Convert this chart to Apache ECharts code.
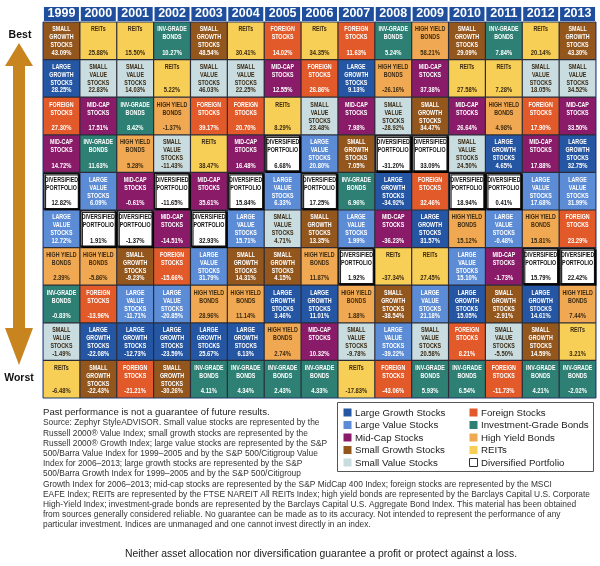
<!DOCTYPE html>
<html><head><meta charset="utf-8">
<script src="https://cdn.jsdelivr.net/npm/echarts@6/dist/echarts.min.js"></script>
<style>html,body{margin:0;padding:0;background:#fff}#c{width:600px;height:566px}</style>
</head><body><div id="c"></div>
<script>
// ---- data ----
const years = ['1999','2000','2001','2002','2003','2004','2005','2006','2007','2008','2009','2010','2011','2012','2013'];
const ranks = ['1','2','3','4','5','6','7','8','9','10'];
const assetKeys = ['LG','LV','MC','SG','SV','FS','IG','HY','RE','DP'];
const cellNames = {
  LG:'LARGE\nGROWTH\nSTOCKS', LV:'LARGE\nVALUE\nSTOCKS', MC:'MID-CAP\nSTOCKS', SG:'SMALL\nGROWTH\nSTOCKS',
  SV:'SMALL\nVALUE\nSTOCKS', FS:'FOREIGN\nSTOCKS', IG:'INV-GRADE\nBONDS', HY:'HIGH YIELD\nBONDS', RE:'REITs', DP:'DIVERSIFIED\nPORTFOLIO'
};
const legendNames = {
  LG:'Large Growth Stocks', LV:'Large Value Stocks', MC:'Mid-Cap Stocks', SG:'Small Growth Stocks', SV:'Small Value Stocks',
  FS:'Foreign Stocks', IG:'Investment-Grade Bonds', HY:'High Yield Bonds', RE:'REITs', DP:'Diversified Portfolio'
};
// ranking order per year (best -> worst)
const order = [
  ['SG','LG','FS','MC','DP','LV','HY','IG','SV','RE'], // 1999
  ['RE','SV','MC','IG','LV','DP','HY','FS','LG','SG'], // 2000
  ['RE','SV','IG','HY','MC','DP','SG','LV','LG','FS'], // 2001
  ['IG','RE','HY','SV','DP','MC','FS','LV','LG','SG'], // 2002
  ['SG','SV','FS','RE','MC','DP','LV','HY','LG','IG'], // 2003
  ['RE','SV','FS','MC','DP','LV','SG','HY','LG','IG'], // 2004
  ['FS','MC','RE','DP','LV','SV','SG','LG','HY','IG'], // 2005
  ['RE','FS','SV','LV','DP','SG','HY','LG','MC','IG'], // 2006
  ['FS','LG','MC','SG','IG','LV','DP','HY','SV','RE'], // 2007
  ['IG','HY','SV','DP','LG','MC','RE','SG','LV','FS'], // 2008
  ['HY','MC','SG','DP','FS','LG','RE','LV','SV','IG'], // 2009
  ['SG','RE','MC','SV','DP','HY','LV','LG','FS','IG'], // 2010
  ['IG','RE','HY','LG','DP','LV','MC','SG','SV','FS'], // 2011
  ['RE','SV','FS','MC','LV','HY','DP','LG','SG','IG'], // 2012
  ['SG','SV','MC','LG','LV','FS','DP','HY','RE','IG']  // 2013
];
const returns = [
  [43.09, 28.25, 27.30, 14.72, 12.82, 12.72, 2.39, -0.83, -1.49, -6.48],
  [25.88, 22.83, 17.51, 11.63, 6.09, 1.91, -5.86, -13.96, -22.08, -22.43],
  [15.50, 14.03, 8.42, 5.28, -0.61, -1.37, -9.23, -11.71, -12.73, -21.21],
  [10.27, 5.22, -1.37, -11.43, -11.65, -14.51, -15.66, -20.85, -23.59, -30.26],
  [48.54, 46.03, 39.17, 38.47, 35.61, 32.93, 31.79, 28.96, 25.67, 4.11],
  [30.41, 22.25, 20.70, 16.48, 15.84, 15.71, 14.31, 11.14, 6.13, 4.34],
  [14.02, 12.55, 8.29, 6.68, 6.33, 4.71, 4.15, 3.46, 2.74, 2.43],
  [34.35, 26.86, 23.48, 20.80, 17.25, 13.35, 11.87, 11.01, 10.32, 4.33],
  [11.63, 9.13, 7.98, 7.05, 6.96, 1.99, 1.92, 1.88, -9.78, -17.83],
  [5.24, -26.16, -28.92, -31.20, -34.92, -36.23, -37.34, -38.54, -39.22, -43.06],
  [58.21, 37.38, 34.47, 33.09, 32.46, 31.57, 27.45, 21.18, 20.58, 5.93],
  [29.09, 27.58, 26.64, 24.50, 18.94, 15.12, 15.10, 15.05, 8.21, 6.54],
  [7.84, 7.28, 4.98, 4.65, 0.41, -0.48, -1.73, -2.91, -5.50, -11.73],
  [20.14, 18.05, 17.90, 17.88, 17.68, 15.81, 15.79, 14.61, 14.59, 4.21],
  [43.30, 34.52, 33.50, 32.75, 31.99, 23.29, 22.42, 7.44, 3.21, -2.02]
];
const noteLines = [
  'Source: Zephyr StyleADVISOR. Small value stocks are represented by the',
  'Russell 2000\u00AE Value Index; small growth stocks are represented by the',
  'Russell 2000\u00AE Growth Index; large value stocks are represented by the S&P',
  '500/Barra Value Index for 1999\u20132005 and by the S&P 500/Citigroup Value',
  'Index for 2006\u20132013; large growth stocks are represented by the S&P',
  '500/Barra Growth Index for 1999\u20132005 and by the S&P 500/Citigroup',
  'Growth Index for 2006\u20132013; mid-cap stocks are represented by the S&P MidCap 400 Index; foreign stocks are represented by the MSCI',
  'EAFE Index; REITs are represented by the FTSE NAREIT All REITs Index; high yield bonds are represented by the Barclays Capital U.S. Corporate',
  'High-Yield Index; investment-grade bonds are represented by the Barclays Capital U.S. Aggregate Bond Index. This material has been obtained',
  'from sources generally considered reliable. No guarantee can be made as to its accuracy. Not intended to represent the performance of any',
  'particular investment. Indices are unmanaged and one cannot invest directly in an index.'
];

// ---- styles ----
const colors = {
  LG:'#2556a3', LV:'#5d8cd6', MC:'#8a1b69', SG:'#93561d', SV:'#c9dce0',
  FS:'#e25a29', IG:'#2e8074', HY:'#f1a852', RE:'#f7ce56', DP:'#ffffff'
};
const darkText = { SV:1, HY:1, RE:1, DP:1 };

const cells = [];
order.forEach((col, xi) => col.forEach((k, yi) => {
  cells.push([xi, yi, assetKeys.indexOf(k), returns[xi][yi]]);
}));

const cellFont = '"Liberation Sans",Arial,sans-serif';

function renderItem(params, api) {
  const xi = api.value(0), yi = api.value(1);
  const key = assetKeys[api.value(2)];
  const ret = api.value(3);
  const c = api.coord([xi, yi]);
  const s = api.size([1, 1]);
  const x0 = c[0] - s[0] / 2, y0 = c[1] - s[1] / 2;
  const isDP = key === 'DP';
  const tc = darkText[key] ? (isDP ? '#111' : '#3a2a12') : '#ffffff';
  return {
    type: 'group',
    children: [
      {
        type: 'rect',
        shape: isDP ? { x: x0 + 1, y: y0 + 1, width: s[0] - 2.5, height: s[1] - 2.5 }
                    : { x: x0 + 0.6, y: y0 + 0.6, width: s[0] - 1.2, height: s[1] - 1.2 },
        style: isDP ? { fill: '#fff', stroke: '#111', lineWidth: 1.2, shadowColor: 'rgba(0,0,0,0.85)', shadowOffsetX: 1.5, shadowOffsetY: 1.5, shadowBlur: 0 }
                    : { fill: colors[key] }
      },
      {
        type: 'text', x: c[0], y: y0 + 3.3, scaleX: 0.69,
        style: { text: cellNames[key], fill: tc, fontFamily: cellFont, fontWeight: 'bold', fontSize: 7.7,
                 lineHeight: 8, align: 'center', verticalAlign: 'top' }
      },
      {
        type: 'text', x: c[0], y: y0 + s[1] - 3, scaleX: 0.76,
        style: { text: ret.toFixed(2) + '%', fill: tc, fontFamily: cellFont, fontWeight: 'bold', fontSize: 7.7,
                 lineHeight: 8, align: 'center', verticalAlign: 'bottom' }
      }
    ]
  };
}

// ---- decorations ----
const graphics = [];
graphics.push({
  type: 'polygon',
  shape: { points: [[19,43],[33,66],[25,66],[25,328],[33,328],[19,365],[5,328],[13,328],[13,66],[5,66]] },
  style: { fill: '#c8841f' }
});
graphics.push({ type: 'text', x: 20, y: 35, style: { text: 'Best', fill: '#111', font: 'bold 10.5px "Liberation Sans",sans-serif', align: 'center', verticalAlign: 'middle' } });
graphics.push({ type: 'text', x: 19, y: 378, style: { text: 'Worst', fill: '#111', font: 'bold 10.5px "Liberation Sans",sans-serif', align: 'center', verticalAlign: 'middle' } });

graphics.push({ type: 'text', x: 43, y: 412, style: { text: 'Past performance is not a guarantee of future results.', fill: '#222', font: '9.6px "Liberation Sans",sans-serif', verticalAlign: 'middle' } });
noteLines.forEach((t, i) => {
  graphics.push({ type: 'text', x: 43, y: 423 + i * 10.2, style: { text: t, fill: '#333', font: '8.4px "Liberation Sans",sans-serif', verticalAlign: 'middle' } });
});
graphics.push({ type: 'text', x: 321, y: 554, style: { text: 'Neither asset allocation nor diversification guarantee a profit or protect against a loss.', fill: '#222', font: '10.4px "Liberation Sans",sans-serif', align: 'center', verticalAlign: 'middle' } });

// legend box
graphics.push({ type: 'rect', shape: { x: 337.5, y: 402.5, width: 256, height: 69 }, style: { fill: '#fff', stroke: '#555', lineWidth: 1 } });
const legCols = [['LG','LV','MC','SG','SV'], ['FS','IG','HY','RE','DP']];
legCols.forEach((col, ci) => col.forEach((k, ri) => {
  const sx = ci === 0 ? 343 : 469;
  const yy = 413 + ri * 12.5;
  graphics.push({ type: 'rect', shape: { x: sx + 0.5, y: yy - 4.5, width: 8, height: 8 },
    style: { fill: colors[k], stroke: k === 'DP' ? '#333' : null, lineWidth: k === 'DP' ? 1 : 0 } });
  graphics.push({ type: 'text', x: sx + 12, y: yy, style: { text: legendNames[k], fill: '#222', font: '9.7px "Liberation Sans",sans-serif', verticalAlign: 'middle' } });
}));

const chart = echarts.init(document.getElementById('c'), null, { renderer: 'canvas' });
chart.setOption({
  animation: false,
  backgroundColor: '#ffffff',
  grid: { left: 43, top: 22, width: 553, height: 376, show: true, backgroundColor: '#2b2c38', borderWidth: 1, borderColor: '#1c3c78' },
  xAxis: {
    type: 'category', data: years, position: 'top',
    axisLine: { show: false }, axisTick: { show: false }, splitLine: { show: false },
    axisLabel: { interval: 0, margin: 1, color: '#fff', fontWeight: 'bold', fontSize: 12.5,
      fontFamily: '"Liberation Sans",sans-serif', backgroundColor: '#1f4f9c',
      width: 35, height: 14, lineHeight: 14, align: 'center', padding: 0 }
  },
  yAxis: { type: 'category', data: ranks, inverse: true, show: false },
  series: [{ type: 'custom', renderItem: renderItem, data: cells, encode: { x: 0, y: 1 } }],
  graphic: graphics
});
</script></body></html>
